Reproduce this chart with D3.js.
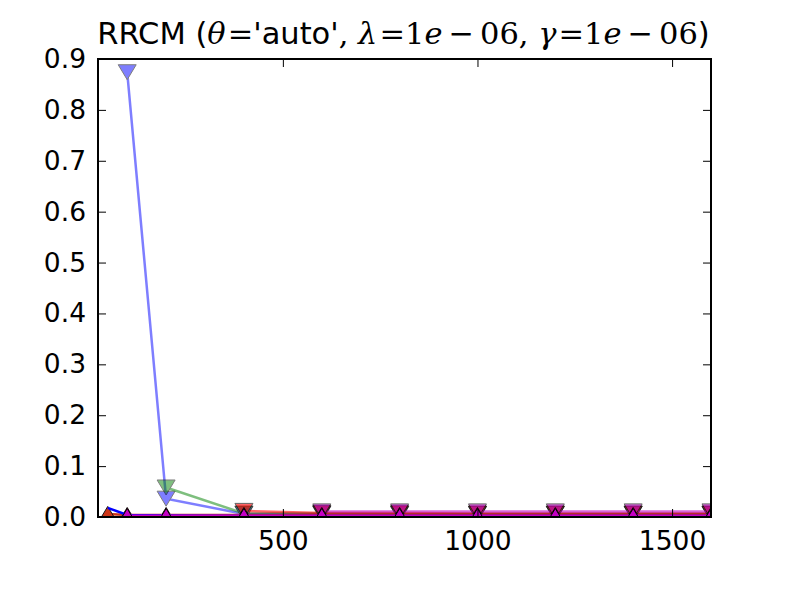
<!DOCTYPE html>
<html>
<head>
<meta charset="utf-8">
<script src="https://cdn.jsdelivr.net/npm/d3@7"></script>
<style>
  body { margin: 0; background: #fff; }
  svg text { font-family: "DejaVu Sans", sans-serif; }
</style>
</head>
<body>
<script>
"use strict";
// data
var xTicks = [500, 1000, 1500];
var yTicks = [0, 0.1, 0.2, 0.3, 0.4, 0.5, 0.6, 0.7, 0.8, 0.9];

var xFull = [50, 100, 200, 400, 600, 800, 1000, 1200, 1400, 1600];
var xFrom100 = [100, 200, 400, 600, 800, 1000, 1200, 1400, 1600];
var xFrom200 = [200, 400, 600, 800, 1000, 1200, 1400, 1600];
var xFrom400 = [400, 600, 800, 1000, 1200, 1400, 1600];
var xFrom600 = [600, 800, 1000, 1200, 1400, 1600];

var darkBlueUp = [0.018, 0.004, 0.003, 0.002, 0.002, 0.002, 0.002, 0.002, 0.002, 0.002];
var redUp = [0.006, 0.004, 0.004, 0.004, 0.004, 0.004, 0.004, 0.004, 0.004, 0.004];
var magentaUp = [0.002, 0.002, 0.002, 0.002, 0.002, 0.002, 0.002, 0.002, 0.002];
var blueDown = [0.874, 0.036, 0.006, 0.006, 0.006, 0.006, 0.006, 0.006, 0.006];
var greenDown = [0.058, 0.007, 0.007, 0.006, 0.006, 0.006, 0.006, 0.006];
var redDown = [0.012, 0.008, 0.008, 0.007, 0.007, 0.007, 0.007];
var magentaDown = [0.011, 0.011, 0.011, 0.011, 0.011, 0.011];

(function () {
  var series = [
    { x: xFrom100, y: blueDown, color: "#0000ff", alpha: 0.5, marker: "v", width: 2.5 },
    { x: xFrom200, y: greenDown, color: "#008000", alpha: 0.5, marker: "v", width: 2.5 },
    { x: xFrom400, y: redDown, color: "#ff0000", alpha: 0.6, marker: "v", width: 2.5 },
    { x: xFrom600, y: magentaDown, color: "#bf00bf", alpha: 0.6, marker: "v", width: 2.5 },
    { x: xFull, y: redUp, color: "#c82000", alpha: 0.9, marker: "^", width: 2.5 },
    { x: xFull, y: darkBlueUp, color: "#0000ff", alpha: 1, marker: null, width: 2.5 },
    { x: xFrom100, y: magentaUp, color: "#c400c4", alpha: 1, marker: "^", width: 3 }
  ];

  var W = 789, H = 592;
  var pLeft = 98, pRight = 711, pTop = 59, pBottom = 517;

  var svg = d3.select("body").append("svg")
    .attr("width", W).attr("height", H);

  var xScale = d3.scaleLinear().domain([25, 1600]).range([pLeft, pRight]);
  var yScale = d3.scaleLinear().domain([0, 0.9]).range([pBottom, pTop]);

  svg.append("clipPath").attr("id", "plotClip")
    .append("rect")
    .attr("x", pLeft).attr("y", pTop)
    .attr("width", pRight - pLeft).attr("height", pBottom - pTop);

  var plot = svg.append("g").attr("clip-path", "url(#plotClip)");

  var line = d3.line()
    .x(function (d) { return xScale(d[0]); })
    .y(function (d) { return yScale(d[1]); });

  var mw = 9, mh = 7.5;
  function markerPath(type) {
    if (type === "v") {
      return "M" + (-mw) + "," + (-mh) + "L" + mw + "," + (-mh) + "L0," + mh + "Z";
    }
    return "M" + (-mw) + "," + mh + "L" + mw + "," + mh + "L0," + (-mh) + "Z";
  }

  series.forEach(function (s) {
    var pts = d3.zip(s.x, s.y);
    var g = plot.append("g").attr("opacity", s.alpha);
    g.append("path")
      .datum(pts)
      .attr("d", line)
      .attr("fill", "none")
      .attr("stroke", s.color)
      .attr("stroke-width", s.width);
    if (s.marker) {
      g.selectAll(".mk")
        .data(pts)
        .enter().append("path")
        .attr("transform", function (d) { return "translate(" + xScale(d[0]) + "," + yScale(d[1]) + ")"; })
        .attr("d", markerPath(s.marker))
        .attr("fill", s.color)
        .attr("stroke", "#000")
        .attr("stroke-width", 1);
    }
  });

  // axes: ticks inside on all four sides
  var tickLen = 8;
  var xAxis = svg.append("g").attr("transform", "translate(0," + pBottom + ")")
    .call(d3.axisBottom(xScale).tickValues(xTicks).tickSizeInner(-tickLen).tickSizeOuter(0)
      .tickPadding(14).tickFormat(d3.format("d")));
  var xAxisTop = svg.append("g").attr("transform", "translate(0," + pTop + ")")
    .call(d3.axisTop(xScale).tickValues(xTicks).tickSizeInner(-tickLen).tickSizeOuter(0).tickFormat(""));
  var yAxis = svg.append("g").attr("transform", "translate(" + pLeft + ",0)")
    .call(d3.axisLeft(yScale).tickValues(yTicks).tickSizeInner(-tickLen).tickSizeOuter(0)
      .tickPadding(12).tickFormat(d3.format(".1f")));
  var yAxisRight = svg.append("g").attr("transform", "translate(" + pRight + ",0)")
    .call(d3.axisRight(yScale).tickValues(yTicks).tickSizeInner(-tickLen).tickSizeOuter(0).tickFormat(""));

  [xAxis, xAxisTop, yAxis, yAxisRight].forEach(function (a) {
    a.select(".domain").remove();
    a.selectAll(".tick line").attr("stroke", "#000").attr("stroke-width", 1);
    a.selectAll(".tick text")
      .attr("fill", "#000")
      .style("font-family", "'DejaVu Sans', sans-serif")
      .style("font-size", "26.5px");
  });

  svg.append("rect")
    .attr("x", pLeft).attr("y", pTop)
    .attr("width", pRight - pLeft).attr("height", pBottom - pTop)
    .attr("fill", "none").attr("stroke", "#000").attr("stroke-width", 2);

  // title, mixing plain text and math-style pieces
  var title = svg.append("text")
    .attr("x", (pLeft + pRight) / 2 - 1).attr("y", 44)
    .attr("text-anchor", "middle")
    .style("font-size", "30.5px");
  var parts = [
    ["RRCM (", "plain"],
    ["\u03B8", "mi"], ["=", "m"], ["'auto'", "plain"], [", ", "m"],
    ["\u03BB", "mi"], ["=", "m"], ["1", "m"], ["e", "mi"], ["\u2212", "m"], ["06, ", "m"],
    ["\u03B3", "mi"], ["=", "m"], ["1", "m"], ["e", "mi"], ["\u2212", "m"], ["06", "m"],
    [")", "plain"]
  ];
  parts.forEach(function (p) {
    var t = title.append("tspan").text(p[0]);
    if (p[1] !== "plain") {
      t.style("font-family", "'DejaVu Serif', serif");
      if (p[1] === "mi") t.style("font-style", "italic");
    }
    if (p[0] === "=") t.attr("dx", 2);
    if (p[0] === "\u2212") t.attr("dx", 6);
    if (p[1] === "m" && (p[0] === "06, " || p[0] === "06")) t.attr("dx", 6);
  });
})();
</script>
</body>
</html>
